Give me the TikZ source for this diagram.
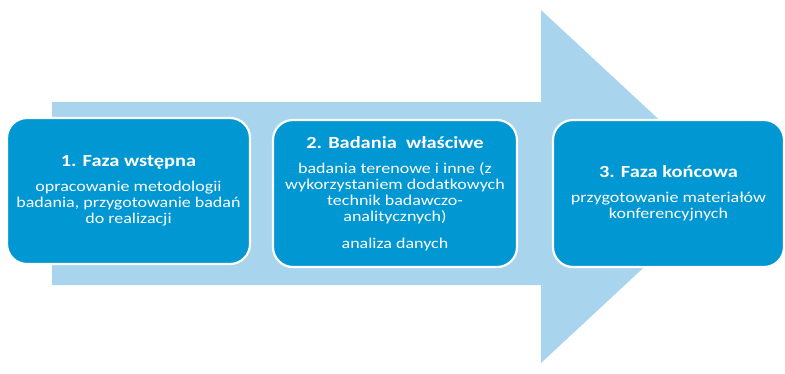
\documentclass[tikz,border=0pt]{standalone}
\usepackage{fontspec}
\setmainfont[FakeStretch=1.2]{Carlito}
\definecolor{arrowBlue}{HTML}{A8D4EE}
\definecolor{boxBlue}{HTML}{0097D3}

\begin{document}
\begin{tikzpicture}
[x=1pt,y=-1pt,
  phaseBox/.style={shape=rectangle,rounded corners=20pt,fill=boxBlue,draw=white,
    line width=2.2pt,text=white,align=center,inner sep=0pt}]
\useasboundingbox (0,0) rectangle (785,373);
%% the big arrow behind the phases
\fill[arrowBlue] (52,102) -- (541,102) -- (541,10) -- (731,186.5)
  -- (541,363) -- (541,285) -- (52,285) -- cycle;
%% draw the phases
\foreach \nodename/\x/\y/\w/\h/\txt in {
  faza1/128.5/191/243/146/{{\fontsize{17}{20}\selectfont\bfseries 1. Faza wstępna}\\[9pt]
    opracowanie metodologii\\ badania, przygotowanie badań\\ do realizacji},
  faza2/395/193.5/244/147/{{\fontsize{17}{20}\selectfont\bfseries 2. Badania~ właściwe}\\[9pt]
    badania terenowe i inne (z\\ wykorzystaniem dodatkowych\\ technik badawczo-\\ analitycznych)\\[11pt]
    analiza danych},
  faza3/668.5/193.5/231/147/{{\fontsize{17}{20}\selectfont\bfseries 3. Faza końcowa}\\[9pt]
    przygotowanie materiałów\\ konferencyjnych}}
{
  \node (\nodename) at (\x,\y) [phaseBox,minimum width=\w pt,minimum height=\h pt,
    font=\fontsize{15}{16}\selectfont] {\txt};
}
\end{tikzpicture}
\end{document}
